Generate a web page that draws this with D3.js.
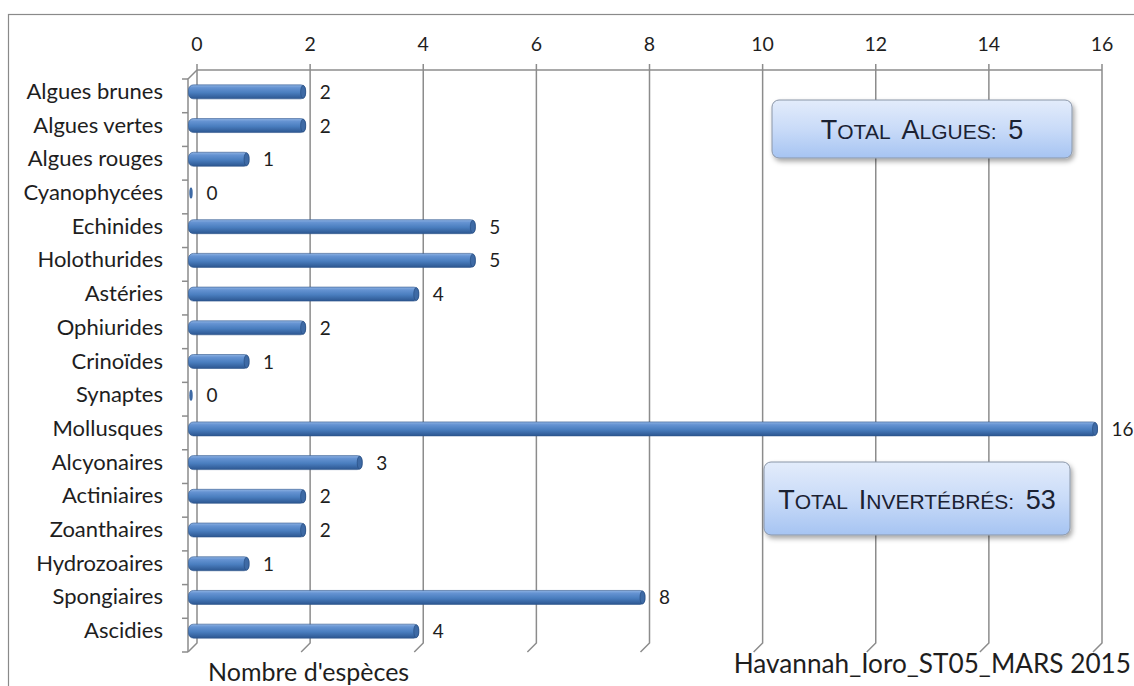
<!DOCTYPE html>
<html><head><meta charset="utf-8">
<script src="https://cdn.jsdelivr.net/npm/d3@7"></script>
<style>body{margin:0;background:#fff}svg{display:block}</style>
</head><body>
<svg id="c" width="1134" height="686"></svg>
<script>
const categories = ["Algues brunes","Algues vertes","Algues rouges","Cyanophycées","Echinides","Holothurides","Astéries","Ophiurides","Crinoïdes","Synaptes","Mollusques","Alcyonaires","Actiniaires","Zoanthaires","Hydrozoaires","Spongiaires","Ascidies"];
const values = [2,2,1,0,5,5,4,2,1,0,16,3,2,2,1,8,4];
const xTicks = [0,2,4,6,8,10,12,14,16];
const xTitle = "Nombre d'espèces";
const stationLabel = "Havannah_Ioro_ST05_MARS 2015";
const totalsText = [
  [["T",1],["OTAL  ",0],["A",1],["LGUES:  ",0],["5",1]],
  [["T",1],["OTAL  ",0],["I",1],["NVERTÉBRÉS:  ",0],["53",1]]
];

(function(){
const svg = d3.select("#c");
const font = "Lato, 'Open Sans', sans-serif";
const grid = "#8c8c8c";
const D = {dx:-9, dy:9};

const x = d3.scaleLinear().domain([0,16]).range([197,1102]);
const yBack = d3.scaleBand().domain(categories).range([70,643]).padding(0);

const defs = svg.append("defs");
const g1 = defs.append("linearGradient").attr("id","bar").attr("x1",0).attr("y1",0).attr("x2",0).attr("y2",1);
[[0,"#8fb3e3"],[0.2,"#6593d2"],[0.55,"#4a7ebf"],[1,"#2c5690"]].forEach(([o,c])=>g1.append("stop").attr("offset",o).attr("stop-color",c));
const g2 = defs.append("linearGradient").attr("id","box").attr("x1",0).attr("y1",0).attr("x2",0).attr("y2",1);
[[0,"#e3ecfb"],[0.5,"#c9dbf8"],[1,"#a6c4f2"]].forEach(([o,c])=>g2.append("stop").attr("offset",o).attr("stop-color",c));
const f = defs.append("filter").attr("id","sh").attr("x","-10%").attr("y","-20%").attr("width","130%").attr("height","160%");
f.append("feDropShadow").attr("dx",2).attr("dy",3).attr("stdDeviation",2.5).attr("flood-color","#000").attr("flood-opacity",0.35);

svg.append("rect").attr("x",8.5).attr("y",14.5).attr("width",1140).attr("height",700)
  .attr("fill","none").attr("stroke","#8a8a8a").attr("stroke-width",1.2);

const yTop = yBack.range()[0], yBot = yBack.range()[1];
svg.append("line").attr("x1",x(0)).attr("x2",x(16)).attr("y1",yTop).attr("y2",yTop).attr("stroke",grid).attr("stroke-width",1.5);
xTicks.forEach(t=>{
  const xx = x(t);
  svg.append("path").attr("d",`M${xx},${yTop-6}L${xx},${yBot}L${xx+D.dx},${yBot+D.dy}`)
    .attr("fill","none").attr("stroke",grid).attr("stroke-width",1.5);
  svg.append("text").attr("x",xx).attr("y",51).attr("text-anchor","middle")
    .attr("font-family",font).attr("font-size",19.5).attr("fill","#1e1e1e").text(t);
});

const fx = x(0)+D.dx;
svg.append("path").attr("d",`M${x(0)},${yTop}L${fx},${yTop+D.dy}L${fx},${yBot+D.dy}`)
  .attr("fill","none").attr("stroke",grid).attr("stroke-width",1.5);
categories.forEach((c)=>{
  const yy = yBack(c)+D.dy;
  svg.append("line").attr("x1",fx-6).attr("x2",fx).attr("y1",yy).attr("y2",yy).attr("stroke",grid).attr("stroke-width",1.5);
});
svg.append("line").attr("x1",fx-6).attr("x2",fx).attr("y1",yBot+D.dy).attr("y2",yBot+D.dy).attr("stroke",grid).attr("stroke-width",1.5);

const bh = 14;
categories.forEach((c,i)=>{
  const v = values[i];
  const cy = yBack(c)+yBack.bandwidth()/2 + D.dy/2 + 0.5;
  const x0 = x(0)+D.dx/2, x1 = x(v)+D.dx/2;
  if (v>0){
    svg.append("rect").attr("x",x0-4).attr("y",cy-bh/2).attr("width",x1-x0+4).attr("height",bh)
      .attr("rx",5).attr("fill","url(#bar)").attr("stroke","#2f568c").attr("stroke-width",0.6);
    svg.append("ellipse").attr("cx",x1-2.5).attr("cy",cy).attr("rx",2.5).attr("ry",bh/2-0.5)
      .attr("fill","#3e6aa5").attr("stroke","#24487a").attr("stroke-width",0.6);
  } else {
    svg.append("ellipse").attr("cx",x0-1.5).attr("cy",cy).attr("rx",1.7).attr("ry",bh/2-1.5)
      .attr("fill","#3e6aa5");
  }
  svg.append("text").attr("x",x1+14).attr("y",cy+7).attr("font-family",font).attr("font-size",19)
    .attr("fill","#1e1e1e").text(v);
  svg.append("text").attr("x",163).attr("y",cy+7).attr("text-anchor","end").attr("font-family",font)
    .attr("font-size",22).attr("fill","#1e1e1e").text(c);
});

svg.append("text").attr("x",208).attr("y",681).attr("font-family",font).attr("font-size",25).attr("fill","#1e1e1e").text(xTitle);
svg.append("text").attr("x",1131).attr("y",673).attr("text-anchor","end").attr("font-family",font).attr("font-size",26.2).attr("fill","#1e1e1e").text(stationLabel);

const boxes = [{x:772,y:100,w:300,h:58},{x:764,y:462,w:306,h:73}];
boxes.forEach((b,i)=>{
  svg.append("rect").attr("x",b.x).attr("y",b.y).attr("width",b.w).attr("height",b.h).attr("rx",7)
    .attr("fill","url(#box)").attr("stroke","#8a96a8").attr("stroke-width",1).attr("filter","url(#sh)");
  const t = svg.append("text").attr("x",b.x+b.w/2).attr("y",b.y+b.h/2+10).attr("text-anchor","middle")
    .attr("font-family","'Liberation Sans', Arial, sans-serif").attr("fill","#1b2233").style("white-space","pre");
  totalsText[i].forEach(([s,big])=>t.append("tspan").attr("font-size",big?27:21).text(s));
});
})();
</script>
</body></html>
